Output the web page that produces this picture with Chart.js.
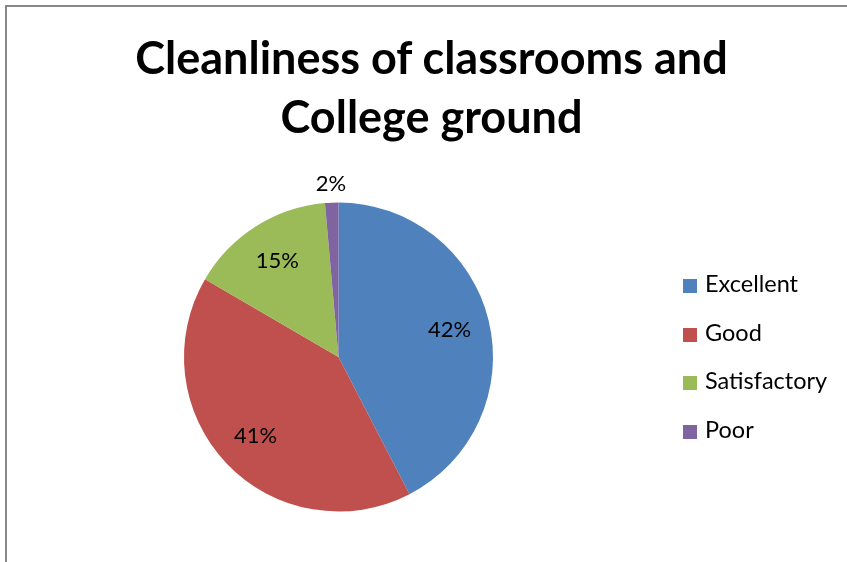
<!DOCTYPE html>
<html>
<head>
<meta charset="utf-8">
<script src="https://cdn.jsdelivr.net/npm/chart.js@4"></script>
<style>
  html, body { margin: 0; padding: 0; background: #fff; overflow: hidden; }
  #wrap { position: relative; width: 847px; height: 562px; overflow: hidden; }
  #frame { position: absolute; left: 5px; top: 5px; width: 900px; height: 600px;
           border-left: 2px solid #888; border-top: 2px solid #888; box-sizing: border-box; }
  #title { position: absolute; left: 0; width: 863px; top: 28px; text-align: center;
           font-family: Lato, "Open Sans", sans-serif; font-weight: bold; font-size: 45px;
           line-height: 59px; color: #000; }
  #legend { position: absolute; left: 683px; top: 269px; font-family: Lato, "Open Sans", sans-serif;
            font-size: 23.5px; color: #000; }
  .li { height: 48.5px; display: flex; align-items: flex-start; }
  .sw { width: 14px; height: 14px; margin-top: 10px; margin-right: 8px; }
  canvas { position: absolute; left: 0; top: 0; }
</style>
</head>
<body>
<div id="wrap">
  <div id="frame"></div>
  <canvas id="c" width="847" height="562"></canvas>
  <div id="title">Cleanliness of classrooms and<br>College ground</div>
  <div id="legend"></div>
</div>
<script>
const categories = ["Excellent", "Good", "Satisfactory", "Poor"];
const values = [42.4, 41.0, 15.2, 1.4];
const percentLabels = ["42%", "41%", "15%", "2%"];
const colors = ["#4F81BD", "#C0504D", "#9BBB59", "#8064A2"];

const legend = document.getElementById('legend');
categories.forEach((c, i) => {
  const row = document.createElement('div');
  row.className = 'li';
  row.innerHTML = '<span class="sw" style="background:' + colors[i] + '"></span><span>' + c + '</span>';
  legend.appendChild(row);
});

const labelPlugin = {
  id: 'sliceLabels',
  afterDatasetsDraw(chart) {
    const ctx = chart.ctx;
    const meta = chart.getDatasetMeta(0);
    ctx.save();
    ctx.font = '22px Lato, "Open Sans", sans-serif';
    ctx.fillStyle = '#000';
    ctx.textAlign = 'center';
    ctx.textBaseline = 'middle';
    meta.data.forEach((arc, i) => {
      const p = arc.getProps(['x', 'y', 'startAngle', 'endAngle', 'outerRadius'], true);
      const mid = (p.startAngle + p.endAngle) / 2;
      const small = values[i] < 5;
      const r = p.outerRadius * (small ? 1.12 : 0.74);
      ctx.fillText(percentLabels[i], p.x + Math.cos(mid) * r, p.y + Math.sin(mid) * r);
    });
    ctx.restore();
  }
};

new Chart(document.getElementById('c'), {
  type: 'pie',
  data: {
    labels: categories,
    datasets: [{
      data: values,
      backgroundColor: colors,
      borderWidth: 0
    }]
  },
  options: {
    responsive: false,
    animation: false,
    layout: { padding: { left: 184, top: 202.5, right: 354, bottom: 50.5 } },
    plugins: {
      legend: { display: false },
      title: { display: false },
      tooltip: { enabled: false }
    }
  },
  plugins: [labelPlugin]
});
</script>
</body>
</html>
